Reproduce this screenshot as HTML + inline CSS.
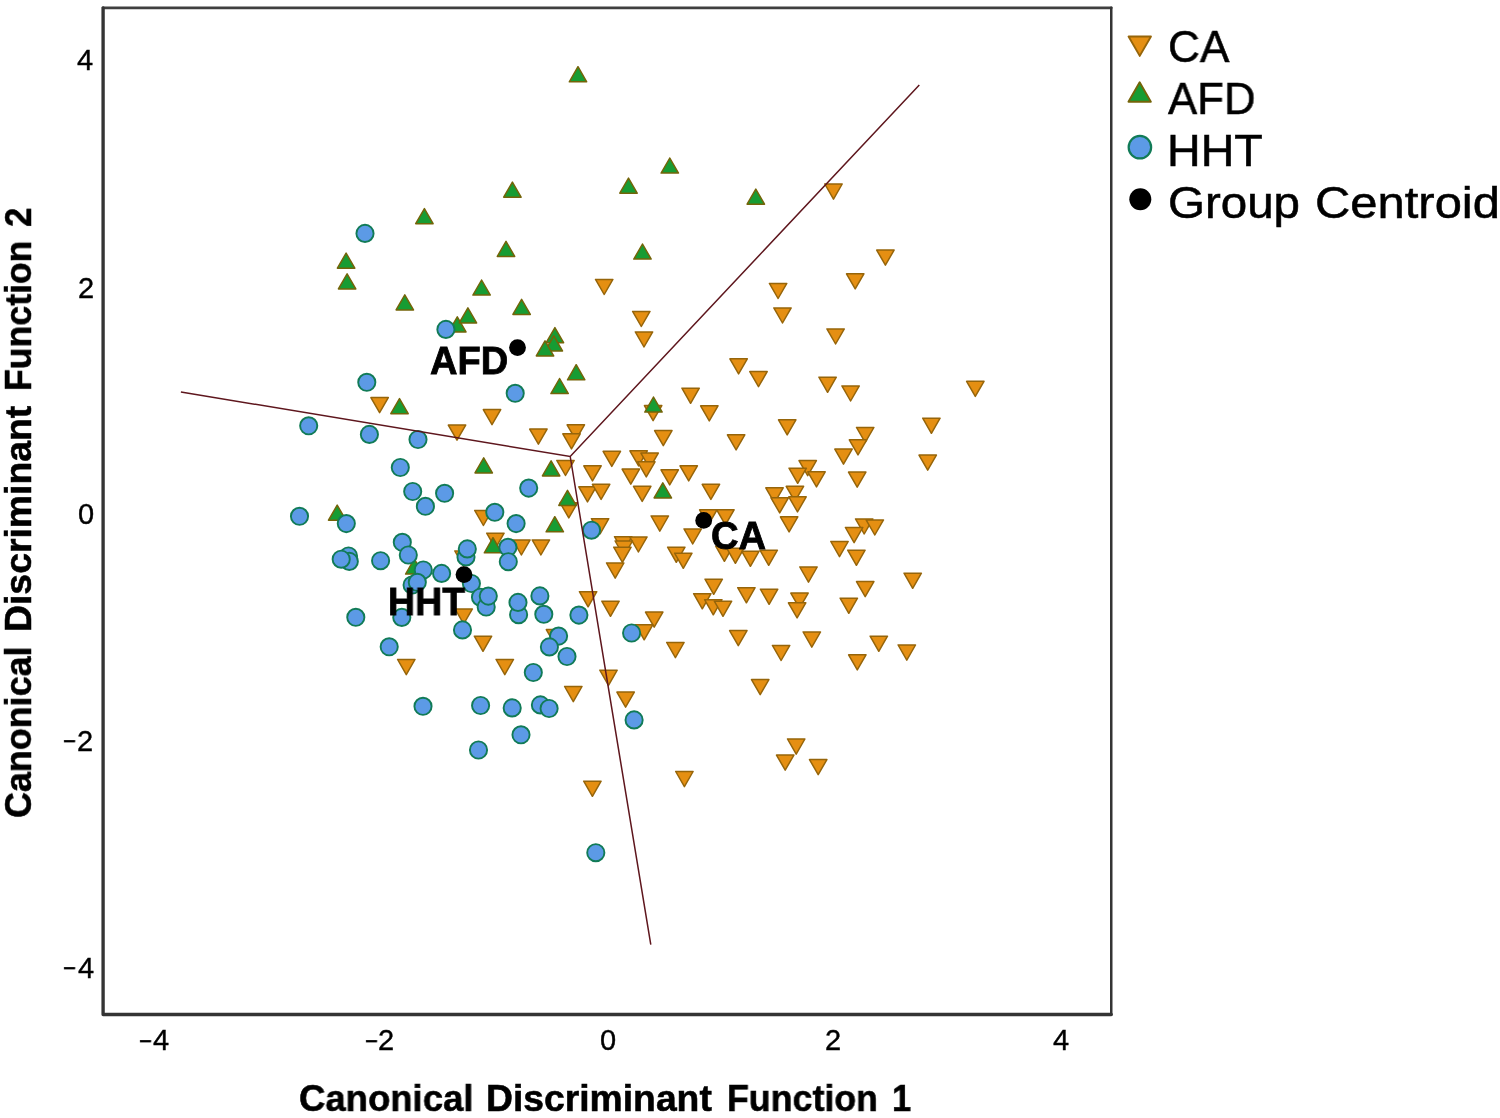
<!DOCTYPE html>
<html><head><meta charset="utf-8"><title>Canonical Discriminant Functions</title>
<style>
html,body{margin:0;padding:0;background:#fff;}
body{width:1500px;height:1118px;position:relative;overflow:hidden;font-family:"Liberation Sans",sans-serif;color:#000;}
svg{position:absolute;left:0;top:0;}
.t{position:absolute;white-space:nowrap;line-height:1;transform-origin:0 0;will-change:transform;}
.b{font-weight:bold;}
.s4{-webkit-text-stroke:0.4px #000;}
.s7{-webkit-text-stroke:0.55px #000;}
.s8{-webkit-text-stroke:0.8px #000;}
#yaxis{position:absolute;left:0;top:0;width:0;height:0;transform-origin:0 0;transform:translate(0px,1118px) rotate(-90deg);}
</style></head><body>
<svg width="1500" height="1118" viewBox="0 0 1500 1118">
<g fill="none" stroke="#343434" stroke-linejoin="round" stroke-linecap="round">
<path d="M103.1 7.85H1111.25" stroke-width="2.8" stroke="#404040"/>
<path d="M1111.25 7.85V1014.5" stroke-width="2.5"/>
<path d="M103.1 7.85V1014.5H1111.25" stroke-width="3.35"/>
</g>
<g fill="#e58f12" stroke="#96650a" stroke-width="1.5" stroke-linejoin="round">
<path d="M370.9 397.6h17.4l-8.7 15.1z"/>
<path d="M483.3 409.6h17.4l-8.7 15.1z"/>
<path d="M448.3 425.1h17.4l-8.7 15.1z"/>
<path d="M529.7 429.1h17.4l-8.7 15.1z"/>
<path d="M556.8 460.4h17.4l-8.7 15.1z"/>
<path d="M560.1 502.8h17.4l-8.7 15.1z"/>
<path d="M474.7 510.4h17.4l-8.7 15.1z"/>
<path d="M486.7 533.2h17.4l-8.7 15.1z"/>
<path d="M512.7 539.9h17.4l-8.7 15.1z"/>
<path d="M532.2 539.9h17.4l-8.7 15.1z"/>
<path d="M454.8 551h17.4l-8.7 15.1z"/>
<path d="M455 608.9h17.4l-8.7 15.1z"/>
<path d="M474.3 636.2h17.4l-8.7 15.1z"/>
<path d="M546.3 629.6h17.4l-8.7 15.1z"/>
<path d="M397.6 659.5h17.4l-8.7 15.1z"/>
<path d="M496.1 659.5h17.4l-8.7 15.1z"/>
<path d="M564.6 686.5h17.4l-8.7 15.1z"/>
<path d="M616.9 692.1h17.4l-8.7 15.1z"/>
<path d="M583.7 781.2h17.4l-8.7 15.1z"/>
<path d="M675.7 771.5h17.4l-8.7 15.1z"/>
<path d="M635.3 331.9h17.4l-8.7 15.1z"/>
<path d="M729.9 358.8h17.4l-8.7 15.1z"/>
<path d="M749.8 371.6h17.4l-8.7 15.1z"/>
<path d="M818.9 377.2h17.4l-8.7 15.1z"/>
<path d="M826.9 328.9h17.4l-8.7 15.1z"/>
<path d="M681.9 388.2h17.4l-8.7 15.1z"/>
<path d="M644.4 405.6h17.4l-8.7 15.1z"/>
<path d="M700.6 405.8h17.4l-8.7 15.1z"/>
<path d="M778.5 419.8h17.4l-8.7 15.1z"/>
<path d="M567.1 424.8h17.4l-8.7 15.1z"/>
<path d="M562.8 433.8h17.4l-8.7 15.1z"/>
<path d="M654.6 430.6h17.4l-8.7 15.1z"/>
<path d="M727.4 434.8h17.4l-8.7 15.1z"/>
<path d="M603.1 451.3h17.4l-8.7 15.1z"/>
<path d="M629.9 450.8h17.4l-8.7 15.1z"/>
<path d="M640.9 453.1h17.4l-8.7 15.1z"/>
<path d="M637.6 461.8h17.4l-8.7 15.1z"/>
<path d="M583.8 465.8h17.4l-8.7 15.1z"/>
<path d="M622.1 469.1h17.4l-8.7 15.1z"/>
<path d="M661 469.8h17.4l-8.7 15.1z"/>
<path d="M680 465.8h17.4l-8.7 15.1z"/>
<path d="M799 460.6h17.4l-8.7 15.1z"/>
<path d="M789 468.2h17.4l-8.7 15.1z"/>
<path d="M807.8 471.8h17.4l-8.7 15.1z"/>
<path d="M578.8 486.8h17.4l-8.7 15.1z"/>
<path d="M592.4 484.3h17.4l-8.7 15.1z"/>
<path d="M633.5 486.3h17.4l-8.7 15.1z"/>
<path d="M702.2 484.3h17.4l-8.7 15.1z"/>
<path d="M765.8 487.8h17.4l-8.7 15.1z"/>
<path d="M786.2 486.3h17.4l-8.7 15.1z"/>
<path d="M771 497.8h17.4l-8.7 15.1z"/>
<path d="M788.8 496.8h17.4l-8.7 15.1z"/>
<path d="M591.4 518.7h17.4l-8.7 15.1z"/>
<path d="M651.1 516h17.4l-8.7 15.1z"/>
<path d="M699.6 509.8h17.4l-8.7 15.1z"/>
<path d="M716.7 509.8h17.4l-8.7 15.1z"/>
<path d="M780.4 516.8h17.4l-8.7 15.1z"/>
<path d="M684 528.9h17.4l-8.7 15.1z"/>
<path d="M614.5 536.7h17.4l-8.7 15.1z"/>
<path d="M629.7 536.9h17.4l-8.7 15.1z"/>
<path d="M615.1 541h17.4l-8.7 15.1z"/>
<path d="M613.7 547.2h17.4l-8.7 15.1z"/>
<path d="M667.6 547.2h17.4l-8.7 15.1z"/>
<path d="M674.6 553.2h17.4l-8.7 15.1z"/>
<path d="M715.7 546.2h17.4l-8.7 15.1z"/>
<path d="M726.7 548.2h17.4l-8.7 15.1z"/>
<path d="M741.7 551.2h17.4l-8.7 15.1z"/>
<path d="M760 550.2h17.4l-8.7 15.1z"/>
<path d="M830.8 541.5h17.4l-8.7 15.1z"/>
<path d="M606.5 563h17.4l-8.7 15.1z"/>
<path d="M799.8 567h17.4l-8.7 15.1z"/>
<path d="M705 579.2h17.4l-8.7 15.1z"/>
<path d="M693.6 593.7h17.4l-8.7 15.1z"/>
<path d="M704.6 599.7h17.4l-8.7 15.1z"/>
<path d="M714.3 601.2h17.4l-8.7 15.1z"/>
<path d="M737.7 587.7h17.4l-8.7 15.1z"/>
<path d="M760.4 589.2h17.4l-8.7 15.1z"/>
<path d="M790.8 593.1h17.4l-8.7 15.1z"/>
<path d="M788.4 602.8h17.4l-8.7 15.1z"/>
<path d="M579.4 591.7h17.4l-8.7 15.1z"/>
<path d="M601.8 601.2h17.4l-8.7 15.1z"/>
<path d="M645.5 612.1h17.4l-8.7 15.1z"/>
<path d="M635.5 624.7h17.4l-8.7 15.1z"/>
<path d="M729.6 630.6h17.4l-8.7 15.1z"/>
<path d="M803.1 632h17.4l-8.7 15.1z"/>
<path d="M666.7 642.5h17.4l-8.7 15.1z"/>
<path d="M772.4 645.4h17.4l-8.7 15.1z"/>
<path d="M599.8 670.2h17.4l-8.7 15.1z"/>
<path d="M751.5 679.6h17.4l-8.7 15.1z"/>
<path d="M841.9 385.9h17.4l-8.7 15.1z"/>
<path d="M966.6 381.3h17.4l-8.7 15.1z"/>
<path d="M922.7 418.2h17.4l-8.7 15.1z"/>
<path d="M856.5 427.4h17.4l-8.7 15.1z"/>
<path d="M849.3 439.8h17.4l-8.7 15.1z"/>
<path d="M834.8 449.1h17.4l-8.7 15.1z"/>
<path d="M919 455.1h17.4l-8.7 15.1z"/>
<path d="M848.5 472.1h17.4l-8.7 15.1z"/>
<path d="M855.5 518.9h17.4l-8.7 15.1z"/>
<path d="M866.1 519.9h17.4l-8.7 15.1z"/>
<path d="M845.4 527.5h17.4l-8.7 15.1z"/>
<path d="M847.7 550.2h17.4l-8.7 15.1z"/>
<path d="M904 573.2h17.4l-8.7 15.1z"/>
<path d="M856.5 581.6h17.4l-8.7 15.1z"/>
<path d="M840.1 598.2h17.4l-8.7 15.1z"/>
<path d="M870.1 636.2h17.4l-8.7 15.1z"/>
<path d="M898.1 645h17.4l-8.7 15.1z"/>
<path d="M848.6 654.8h17.4l-8.7 15.1z"/>
<path d="M787.5 739h17.4l-8.7 15.1z"/>
<path d="M776.5 755.1h17.4l-8.7 15.1z"/>
<path d="M809.5 759.6h17.4l-8.7 15.1z"/>
<path d="M824.8 184h17.4l-8.7 15.1z"/>
<path d="M595.5 279.4h17.4l-8.7 15.1z"/>
<path d="M769.4 283.4h17.4l-8.7 15.1z"/>
<path d="M846.5 273.8h17.4l-8.7 15.1z"/>
<path d="M632.6 311.4h17.4l-8.7 15.1z"/>
<path d="M773.8 307.9h17.4l-8.7 15.1z"/>
<path d="M876.7 250.1h17.4l-8.7 15.1z"/>
</g>
<g fill="#179c33" stroke="#746409" stroke-width="1.5" stroke-linejoin="round">
<path d="M569.3 81.8h17.4l-8.7 -15.1z"/>
<path d="M503.7 197.2h17.4l-8.7 -15.1z"/>
<path d="M415.7 223.7h17.4l-8.7 -15.1z"/>
<path d="M497.3 256.4h17.4l-8.7 -15.1z"/>
<path d="M337.4 268.2h17.4l-8.7 -15.1z"/>
<path d="M338.4 288.9h17.4l-8.7 -15.1z"/>
<path d="M472.9 295.1h17.4l-8.7 -15.1z"/>
<path d="M396.1 309.9h17.4l-8.7 -15.1z"/>
<path d="M512.9 314.4h17.4l-8.7 -15.1z"/>
<path d="M448.6 331.9h17.4l-8.7 -15.1z"/>
<path d="M459.2 322.9h17.4l-8.7 -15.1z"/>
<path d="M546.2 342.7h17.4l-8.7 -15.1z"/>
<path d="M545.1 350.9h17.4l-8.7 -15.1z"/>
<path d="M536.3 355.9h17.4l-8.7 -15.1z"/>
<path d="M567.5 379.8h17.4l-8.7 -15.1z"/>
<path d="M550.9 393.6h17.4l-8.7 -15.1z"/>
<path d="M390.8 413.7h17.4l-8.7 -15.1z"/>
<path d="M475 472.9h17.4l-8.7 -15.1z"/>
<path d="M542.4 475.9h17.4l-8.7 -15.1z"/>
<path d="M558.8 505.4h17.4l-8.7 -15.1z"/>
<path d="M328.5 520.2h17.4l-8.7 -15.1z"/>
<path d="M546.1 531.8h17.4l-8.7 -15.1z"/>
<path d="M484.3 552.8h17.4l-8.7 -15.1z"/>
<path d="M405.6 574h17.4l-8.7 -15.1z"/>
<path d="M661.1 173.1h17.4l-8.7 -15.1z"/>
<path d="M619.8 193.2h17.4l-8.7 -15.1z"/>
<path d="M747.1 204.2h17.4l-8.7 -15.1z"/>
<path d="M633.8 259.1h17.4l-8.7 -15.1z"/>
<path d="M644.8 412.1h17.4l-8.7 -15.1z"/>
<path d="M654.1 497.9h17.4l-8.7 -15.1z"/>
</g>
<g fill="#5c9ae6" stroke="#117b57" stroke-width="1.9">
<circle cx="365" cy="233.4" r="8.6"/>
<circle cx="445.9" cy="329.4" r="8.6"/>
<circle cx="366.8" cy="382.3" r="8.6"/>
<circle cx="515.2" cy="393.3" r="8.6"/>
<circle cx="308.7" cy="425.8" r="8.6"/>
<circle cx="369.4" cy="434.4" r="8.6"/>
<circle cx="418" cy="439.5" r="8.6"/>
<circle cx="400.3" cy="467.5" r="8.6"/>
<circle cx="528.7" cy="488.1" r="8.6"/>
<circle cx="412.7" cy="491.5" r="8.6"/>
<circle cx="444.6" cy="493.3" r="8.6"/>
<circle cx="425.4" cy="506.3" r="8.6"/>
<circle cx="299.5" cy="516.3" r="8.6"/>
<circle cx="346.3" cy="523.6" r="8.6"/>
<circle cx="494.8" cy="512.3" r="8.6"/>
<circle cx="516.1" cy="523.6" r="8.6"/>
<circle cx="402.3" cy="542.3" r="8.6"/>
<circle cx="408.3" cy="555" r="8.6"/>
<circle cx="466" cy="556.9" r="8.6"/>
<circle cx="467.3" cy="548.9" r="8.6"/>
<circle cx="507.9" cy="547.3" r="8.6"/>
<circle cx="508.3" cy="561.7" r="8.6"/>
<circle cx="348.5" cy="556" r="8.6"/>
<circle cx="349.3" cy="561.4" r="8.6"/>
<circle cx="341.2" cy="559.2" r="8.6"/>
<circle cx="380.6" cy="560.7" r="8.6"/>
<circle cx="423.3" cy="570" r="8.6"/>
<circle cx="441.6" cy="573.4" r="8.6"/>
<circle cx="412.1" cy="585" r="8.6"/>
<circle cx="417.3" cy="582.3" r="8.6"/>
<circle cx="471.4" cy="583.5" r="8.6"/>
<circle cx="480.5" cy="597.2" r="8.6"/>
<circle cx="486.2" cy="607" r="8.6"/>
<circle cx="488.3" cy="596.1" r="8.6"/>
<circle cx="518.6" cy="614.7" r="8.6"/>
<circle cx="518" cy="602.4" r="8.6"/>
<circle cx="539.9" cy="595.9" r="8.6"/>
<circle cx="543.8" cy="614.3" r="8.6"/>
<circle cx="578.9" cy="615.1" r="8.6"/>
<circle cx="355.8" cy="617.3" r="8.6"/>
<circle cx="401.8" cy="617.4" r="8.6"/>
<circle cx="462.5" cy="629.9" r="8.6"/>
<circle cx="389.2" cy="646.8" r="8.6"/>
<circle cx="558.6" cy="636.1" r="8.6"/>
<circle cx="549.4" cy="646.9" r="8.6"/>
<circle cx="567" cy="656.5" r="8.6"/>
<circle cx="533.3" cy="672.5" r="8.6"/>
<circle cx="423" cy="706.3" r="8.6"/>
<circle cx="480.6" cy="705.5" r="8.6"/>
<circle cx="512.2" cy="707.9" r="8.6"/>
<circle cx="540.4" cy="704.9" r="8.6"/>
<circle cx="549.1" cy="708.5" r="8.6"/>
<circle cx="521" cy="734.8" r="8.6"/>
<circle cx="478.5" cy="750" r="8.6"/>
<circle cx="591.5" cy="530.2" r="8.6"/>
<circle cx="631.6" cy="633" r="8.6"/>
<circle cx="634.1" cy="719.9" r="8.6"/>
<circle cx="595.8" cy="852.7" r="8.6"/>
</g>
<g fill="#000">
<circle cx="517.5" cy="347.6" r="8.4"/>
<circle cx="464" cy="574.6" r="8.4"/>
<circle cx="703.7" cy="520.4" r="8.4"/>
</g>
<g stroke="#5e161d" stroke-width="1.5" fill="none" stroke-linecap="butt">
<path d="M180.9 392L570.2 456.5L919.3 85M570.2 456.5L650.8 944.7"/>
</g>
<g>
<path d="M1128.55 36.5h22.4l-11.2 19.4z" fill="#e58f12" stroke="#96650a" stroke-width="1.9" stroke-linejoin="round"/>
<path d="M1128.45 101.7h22.4l-11.2 -19.4z" fill="#179c33" stroke="#746409" stroke-width="1.9" stroke-linejoin="round"/>
<circle cx="1139.9" cy="147.2" r="11.25" fill="#5c9ae6" stroke="#117b57" stroke-width="2.2"/>
<circle cx="1140.3" cy="199.3" r="11" fill="#000"/>
</g>
</svg>
<div class="t s4" id="y4" style="left:77.32px;top:46.00px;font-size:29px;">4</div>
<div class="t s4" id="y2" style="left:77.58px;top:273.80px;font-size:29px;">2</div>
<div class="t s4" id="y0" style="left:77.65px;top:499.50px;font-size:29px;">0</div>
<div class="t s4" id="ym2" style="left:77.46px;top:726.50px;font-size:29px;">2</div>
<div class="t s4" id="ym4" style="left:77.62px;top:953.50px;font-size:29px;">4</div>
<div class="t s4" id="ym2m" style="left:63.00px;top:727.05px;font-size:29px;transform:scaleX(0.7796);">−</div>
<div class="t s4" id="ym4m" style="left:63.00px;top:954.05px;font-size:29px;transform:scaleX(0.7796);">−</div>
<div class="t s4" id="xm4" style="left:153.02px;top:1026.00px;font-size:29px;">4</div>
<div class="t s4" id="xm2" style="left:378.38px;top:1026.00px;font-size:29px;">2</div>
<div class="t s4" id="x0" style="left:599.70px;top:1026.20px;font-size:29px;">0</div>
<div class="t s4" id="x2" style="left:825.08px;top:1026.00px;font-size:29px;">2</div>
<div class="t s4" id="x4" style="left:1052.92px;top:1026.00px;font-size:29px;">4</div>
<div class="t s4" id="xm4m" style="left:138.95px;top:1026.55px;font-size:29px;transform:scaleX(0.7761);">−</div>
<div class="t s4" id="xm2m" style="left:364.85px;top:1026.55px;font-size:29px;transform:scaleX(0.7761);">−</div>
<div class="t b s7" id="xt1" style="left:298.84px;top:1079.90px;font-size:37px;transform:scaleX(0.9866);">Canonical</div>
<div class="t b s7" id="xt2" style="left:486.29px;top:1079.90px;font-size:37px;transform:scaleX(1.0075);">Discriminant</div>
<div class="t b s7" id="xt3" style="left:727.07px;top:1079.90px;font-size:37px;transform:scaleX(0.9666);">Function</div>
<div class="t b s7" id="xt4" style="left:892.15px;top:1079.90px;font-size:37px;transform:scaleX(0.9315);">1</div>
<div class="t s7" id="g1" style="left:1168.07px;top:24.20px;font-size:45px;transform:scaleX(0.9824);">CA</div>
<div class="t s7" id="g2" style="left:1168.03px;top:76.00px;font-size:45px;transform:scaleX(0.9724);">AFD</div>
<div class="t s7" id="g3" style="left:1167.48px;top:128.10px;font-size:45px;transform:scaleX(1.0349);">HHT</div>
<div class="t s7" id="g4" style="left:1167.92px;top:180.30px;font-size:45px;transform:scaleX(1.0554);">Group</div>
<div class="t s7" id="g5" style="left:1314.86px;top:180.30px;font-size:45px;transform:scaleX(1.0873);">Centroid</div>
<div class="t b s8" id="lafd" style="left:430.07px;top:342.00px;font-size:38px;transform:scaleX(1.0015);">AFD</div>
<div class="t b s8" id="lhht" style="left:388.26px;top:583.20px;font-size:38px;transform:scaleX(0.9855);">HHT</div>
<div class="t b s8" id="lca" style="left:710.88px;top:517.10px;font-size:38px;transform:scaleX(1.0046);">CA</div>
<div id="yaxis">
<div class="t b s7" id="yt1" style="left:300.17px;top:-0.10px;font-size:37px;transform:scaleX(0.9698);">Canonical</div>
<div class="t b s7" id="yt2" style="left:485.79px;top:-0.10px;font-size:37px;transform:scaleX(1.0097);">Discriminant</div>
<div class="t b s7" id="yt3" style="left:727.18px;top:-0.10px;font-size:37px;transform:scaleX(0.9633);">Function</div>
<div class="t b s7" id="yt4" style="left:891.29px;top:-0.10px;font-size:37px;transform:scaleX(0.9410);">2</div>
</div>
</body></html>
